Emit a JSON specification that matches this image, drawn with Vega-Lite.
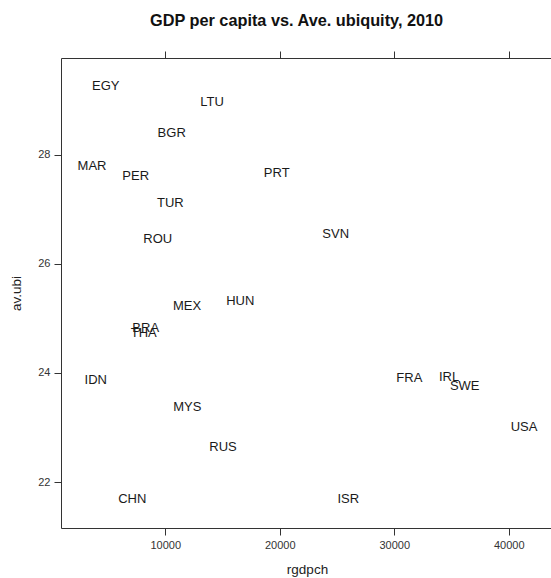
{
  "$schema": "https://vega.github.io/schema/vega-lite/v6.json",
  "width": 492,
  "height": 470,
  "autosize": "none",
  "padding": {"left": 61, "top": 58, "right": 0, "bottom": 50},
  "background": "white",
  "title": {
    "text": "GDP per capita vs. Ave. ubiquity, 2010",
    "font": "Liberation Sans",
    "fontSize": 16.3,
    "fontWeight": "bold",
    "color": "#111",
    "anchor": "start",
    "frame": "group",
    "dx": 89,
    "baseline": "alphabetic",
    "offset": 8
  },
  "config": {
    "view": {"stroke": "#333", "strokeWidth": 1},
    "axis": {
      "domain": false,
      "grid": false,
      "tickColor": "#333",
      "tickSize": 7,
      "labelFont": "Liberation Sans",
      "labelFontSize": 11,
      "labelColor": "#333",
      "titleFont": "Liberation Sans",
      "titleFontSize": 13.5,
      "titleFontWeight": "normal",
      "titleColor": "#222"
    }
  },
  "data": {
    "values": [
      {"iso": "EGY", "rgdpch": 4804, "av_ubi": 29.25},
      {"iso": "LTU", "rgdpch": 14086, "av_ubi": 28.96},
      {"iso": "BGR", "rgdpch": 10567, "av_ubi": 28.39},
      {"iso": "MAR", "rgdpch": 3608, "av_ubi": 27.79},
      {"iso": "PER", "rgdpch": 7424, "av_ubi": 27.61},
      {"iso": "PRT", "rgdpch": 19735, "av_ubi": 27.67},
      {"iso": "TUR", "rgdpch": 10445, "av_ubi": 27.12},
      {"iso": "ROU", "rgdpch": 9345, "av_ubi": 26.45},
      {"iso": "SVN", "rgdpch": 24886, "av_ubi": 26.55},
      {"iso": "MEX", "rgdpch": 11903, "av_ubi": 25.23},
      {"iso": "HUN", "rgdpch": 16557, "av_ubi": 25.31},
      {"iso": "BRA", "rgdpch": 8297, "av_ubi": 24.83},
      {"iso": "THA", "rgdpch": 8122, "av_ubi": 24.73},
      {"iso": "IDN", "rgdpch": 3931, "av_ubi": 23.88},
      {"iso": "MYS", "rgdpch": 11929, "av_ubi": 23.38},
      {"iso": "RUS", "rgdpch": 15046, "av_ubi": 22.64},
      {"iso": "CHN", "rgdpch": 7127, "av_ubi": 21.69},
      {"iso": "FRA", "rgdpch": 31313, "av_ubi": 23.9},
      {"iso": "IRL", "rgdpch": 34779, "av_ubi": 23.93},
      {"iso": "SWE", "rgdpch": 36150, "av_ubi": 23.77},
      {"iso": "USA", "rgdpch": 41328, "av_ubi": 23.01},
      {"iso": "ISR", "rgdpch": 25987, "av_ubi": 21.69}
    ]
  },
  "layer": [
    {
      "mark": {"type": "text", "font": "Liberation Sans", "fontSize": 13, "color": "#1a1a1a", "baseline": "middle", "align": "center"},
      "encoding": {
        "x": {
          "field": "rgdpch", "type": "quantitative",
          "scale": {"domain": [901, 43860], "nice": false, "zero": false},
          "axis": {"orient": "bottom", "values": [10000, 20000, 30000, 40000], "format": "d", "title": "rgdpch", "labelPadding": 4, "titlePadding": 12}
        },
        "y": {
          "field": "av_ubi", "type": "quantitative",
          "scale": {"domain": [21.16, 29.77], "nice": false, "zero": false},
          "axis": {"orient": "left", "values": [22, 24, 26, 28], "title": "av.ubi", "labelPadding": 4, "titlePadding": 14}
        },
        "text": {"field": "iso"}
      }
    },
    {
      "mark": {"type": "text", "opacity": 0},
      "encoding": {
        "x": {
          "field": "rgdpch", "type": "quantitative",
          "axis": {"orient": "top", "values": [10000, 20000, 30000, 40000], "labels": false, "title": null}
        },
        "y": {"field": "av_ubi", "type": "quantitative"},
        "text": {"field": "iso"}
      }
    }
  ],
  "resolve": {"axis": {"x": "independent"}}
}
